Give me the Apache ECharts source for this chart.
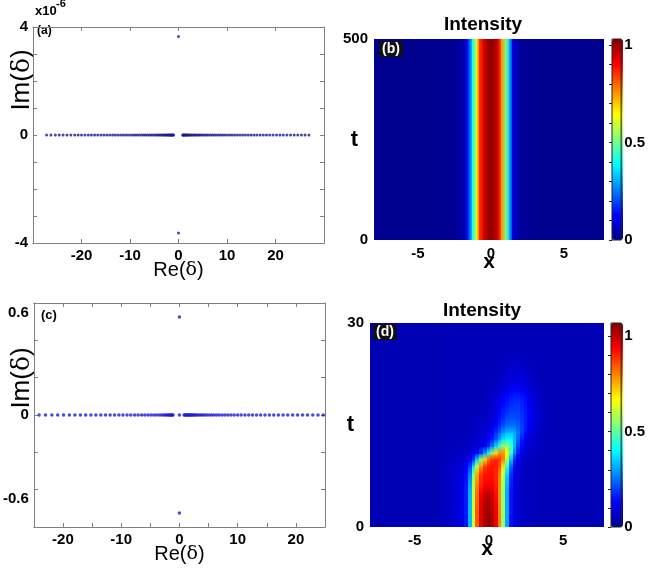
<!DOCTYPE html>
<html><head><meta charset="utf-8">
<script src="https://cdn.jsdelivr.net/npm/echarts@6/dist/echarts.min.js"></script>
<style>html,body{margin:0;padding:0;background:#fff}#c{width:648px;height:575px}</style>
</head><body><div id="c"></div>
<script>
// ---------- (a) eigenvalue spectrum, Im in units of 1e-6 ----------
const A_RE_NEG = [-27.2,-26.3,-25.4,-24.6,-23.8,-23.0,-22.2,-21.4,-20.7,-20.0,-19.3,-18.6,-17.95,-17.3,-16.65,-16.0,-15.4,-14.8,-14.2,-13.6,-13.05,-12.5,-11.95,-11.4,-10.9,-10.4,-9.9,-9.4,-8.95,-8.5,-8.05,-7.6,-7.2,-6.8,-6.4,-6.0,-5.65,-5.3,-4.95,-4.6,-4.3,-4.0,-3.7,-3.45,-3.2,-2.95,-2.7,-2.5,-2.3,-2.1,-1.95,-1.8,-1.65,-1.5,-1.38,-1.26,-1.14,-1.02];
const A_RE_POS = [0.85,0.97,1.09,1.21,1.35,1.5,1.65,1.82,2.0,2.2,2.4,2.6,2.85,3.1,3.35,3.6,3.9,4.2,4.5,4.8,5.15,5.5,5.85,6.2,6.6,7.0,7.4,7.8,8.25,8.7,9.15,9.6,10.1,10.6,11.1,11.6,12.15,12.7,13.25,13.8,14.4,15.0,15.6,16.2,16.85,17.5,18.15,18.8,19.5,20.2,20.9,21.6,22.35,23.1,23.85,24.6,25.35,26.1,26.9];
const A_IM_CONT = 0;
const A_DISCRETE = [[0, 3.65], [0, -3.63]];
const A_X_TICKS = [-20, -10, 0, 10, 20];
const A_Y_TICKS = [-4, 0, 4];

// ---------- (c) eigenvalue spectrum ----------
const C_RE_NEG = [-24.1,-23.0,-21.9,-20.9,-19.9,-18.9,-17.95,-17.0,-16.1,-15.2,-14.35,-13.5,-12.7,-11.9,-11.15,-10.4,-9.7,-9.0,-8.35,-7.7,-7.1,-6.5,-5.95,-5.4,-4.9,-4.4,-3.95,-3.5,-3.1,-2.75,-2.45,-2.2,-1.95,-1.75,-1.55,-1.4,-1.25,-1.1];
const C_RE_POS = [0.8,0.95,1.1,1.25,1.4,1.55,1.7,1.85,2.0,2.2,2.4,2.6,2.85,3.1,3.4,3.7,4.0,4.35,4.7,5.1,5.5,5.9,6.35,6.8,7.3,7.8,8.3,8.85,9.4,10.0,10.6,11.25,11.9,12.55,13.25,13.95,14.7,15.45,16.2,17.0,17.8,18.6,19.45,20.3,21.15,22.0,22.9,23.8,24.7];
const C_CENTER = [[0, 0]];
const C_IM_CONT = 0;
const C_DISCRETE = [[0, 0.525], [0, -0.525]];
const C_X_TICKS = [-20, -10, 0, 10, 20];
const C_Y_TICKS = [-0.6, 0, 0.6];

// ---------- heatmap grids ----------
const FULL_X = [-8,-7.75,-7.5,-7.25,-7,-6.75,-6.5,-6.25,-6,-5.75,-5.5,-5.25,-5,-4.75,-4.5,-4.25,-4,-3.75,-3.5,-3.25,-3,-2.75,-2.5,-2.25,-2,-1.75,-1.5,-1.25,-1,-0.75,-0.5,-0.25,0,0.25,0.5,0.75,1,1.25,1.5,1.75,2,2.25,2.5,2.75,3,3.25,3.5,3.75,4,4.25,4.5,4.75,5,5.25,5.5,5.75,6,6.25,6.5,6.75,7,7.25,7.5,7.75];
const HEAT_X_TICKS = [-5, 0, 5];

// (b): stationary intensity profile |psi|^2 (same for all t in [0,500])
const B_T_RANGE = [0, 500];
const B_I = [0,0,0,0,0,0,0,0,0,0,0,0,0,0,0,0,0,0,0,0,
  0.004,0.006,0.009,0.014,0.025,0.06,0.17,0.39,0.63,0.85,0.94,0.99,1.02,0.99,0.93,0.76,0.52,0.32,0.09,0.04,0.02,0.012,0.008,0.005,0.003,
  0,0,0,0,0,0,0,0,0,0,0,0,0,0,0,0,0,0,0];
const B_Y_TICKS = [0, 500];
const B_CMAX = 1.03;

// (d): evolving intensity; rows at t = 0..30, window x = -3..4.5, background outside
const D_T = [0,1,2,3,4,5,6,7,8,9,10,11,12,13,14,15,16,17,18,19,20,21,22,23,24,25,26,27,28,29,30];
const D_WIN_X = [-3,-2.75,-2.5,-2.25,-2,-1.75,-1.5,-1.25,-1,-0.75,-0.5,-0.25,0,0.25,0.5,0.75,1,1.25,1.5,1.75,2,2.25,2.5,2.75,3,3.25,3.5,3.75,4,4.25,4.5];
const D_BG = 0.045;
const D_ROWS = [
 [0.06,0.06,0.07,0.08,0.09,0.11,0.16,0.33,0.61,0.85,0.97,1.03,1.05,1.03,0.95,0.80,0.56,0.31,0.15,0.10,0.08,0.07,0.06,0.06,0.05,0.05,0.05,0.05,0.05,0.05,0.05],
 [0.06,0.06,0.07,0.08,0.09,0.11,0.16,0.33,0.61,0.85,0.97,1.03,1.05,1.03,0.95,0.80,0.56,0.31,0.15,0.10,0.08,0.07,0.06,0.06,0.05,0.05,0.05,0.05,0.05,0.05,0.05],
 [0.06,0.06,0.07,0.08,0.09,0.11,0.16,0.33,0.61,0.85,0.97,1.02,1.04,1.02,0.95,0.80,0.56,0.31,0.15,0.10,0.08,0.07,0.06,0.06,0.05,0.05,0.05,0.05,0.05,0.05,0.05],
 [0.06,0.06,0.07,0.08,0.09,0.11,0.16,0.33,0.61,0.84,0.96,1.02,1.03,1.01,0.94,0.80,0.56,0.31,0.15,0.10,0.08,0.07,0.06,0.06,0.05,0.05,0.05,0.05,0.05,0.05,0.05],
 [0.06,0.06,0.07,0.08,0.09,0.11,0.16,0.32,0.60,0.83,0.96,1.01,1.02,1.00,0.93,0.79,0.56,0.31,0.15,0.10,0.08,0.07,0.06,0.06,0.05,0.05,0.05,0.05,0.05,0.05,0.05],
 [0.06,0.06,0.07,0.08,0.09,0.11,0.16,0.32,0.59,0.82,0.94,0.99,1.00,0.98,0.92,0.79,0.56,0.31,0.15,0.10,0.08,0.07,0.06,0.06,0.05,0.05,0.05,0.05,0.05,0.05,0.05],
 [0.06,0.06,0.07,0.08,0.09,0.11,0.16,0.31,0.58,0.80,0.91,0.95,0.96,0.95,0.91,0.79,0.57,0.32,0.16,0.10,0.08,0.07,0.06,0.06,0.05,0.05,0.05,0.05,0.05,0.05,0.05],
 [0.06,0.06,0.07,0.08,0.09,0.11,0.15,0.29,0.56,0.78,0.89,0.93,0.93,0.93,0.90,0.80,0.59,0.34,0.17,0.11,0.08,0.07,0.06,0.06,0.05,0.05,0.05,0.05,0.05,0.05,0.05],
 [0.06,0.06,0.07,0.08,0.09,0.11,0.14,0.26,0.51,0.75,0.87,0.91,0.92,0.92,0.90,0.81,0.62,0.37,0.19,0.11,0.08,0.07,0.06,0.06,0.05,0.05,0.05,0.05,0.05,0.05,0.05],
 [0.06,0.06,0.07,0.07,0.08,0.09,0.12,0.20,0.38,0.60,0.78,0.88,0.91,0.92,0.91,0.86,0.70,0.45,0.24,0.13,0.09,0.07,0.06,0.06,0.05,0.05,0.05,0.05,0.05,0.05,0.05],
 [0.05,0.06,0.06,0.07,0.07,0.08,0.09,0.12,0.18,0.35,0.55,0.71,0.82,0.88,0.90,0.88,0.80,0.58,0.34,0.18,0.11,0.08,0.07,0.06,0.06,0.05,0.05,0.05,0.05,0.05,0.05],
 [0.05,0.05,0.06,0.06,0.06,0.07,0.07,0.08,0.10,0.14,0.20,0.30,0.42,0.56,0.70,0.79,0.79,0.67,0.46,0.27,0.16,0.11,0.08,0.07,0.06,0.06,0.05,0.05,0.05,0.05,0.05],
 [0.05,0.05,0.05,0.05,0.06,0.06,0.06,0.07,0.07,0.08,0.10,0.13,0.18,0.26,0.36,0.47,0.55,0.55,0.47,0.33,0.21,0.14,0.10,0.08,0.07,0.06,0.06,0.05,0.05,0.05,0.05],
 [0.05,0.05,0.05,0.05,0.05,0.05,0.06,0.06,0.06,0.07,0.08,0.09,0.12,0.16,0.22,0.30,0.37,0.41,0.40,0.33,0.24,0.16,0.11,0.09,0.07,0.06,0.06,0.05,0.05,0.05,0.05],
 [0.05,0.05,0.05,0.05,0.05,0.05,0.05,0.06,0.06,0.06,0.07,0.08,0.10,0.13,0.18,0.23,0.28,0.32,0.33,0.31,0.26,0.20,0.15,0.11,0.09,0.07,0.06,0.06,0.05,0.05,0.05],
 [0.05,0.05,0.05,0.05,0.05,0.05,0.05,0.05,0.06,0.06,0.07,0.07,0.08,0.10,0.13,0.17,0.21,0.24,0.25,0.25,0.23,0.20,0.16,0.12,0.10,0.08,0.07,0.06,0.05,0.05,0.05],
 [0.05,0.05,0.05,0.05,0.05,0.05,0.05,0.05,0.05,0.06,0.06,0.07,0.07,0.09,0.12,0.15,0.18,0.21,0.22,0.22,0.21,0.19,0.16,0.13,0.10,0.08,0.07,0.06,0.05,0.05,0.05],
 [0.05,0.05,0.05,0.05,0.05,0.05,0.05,0.05,0.05,0.05,0.06,0.06,0.07,0.08,0.10,0.13,0.16,0.18,0.20,0.20,0.20,0.18,0.16,0.13,0.10,0.08,0.07,0.06,0.05,0.05,0.05],
 [0.05,0.05,0.05,0.05,0.05,0.05,0.05,0.05,0.05,0.05,0.05,0.06,0.06,0.07,0.09,0.11,0.14,0.16,0.18,0.19,0.19,0.17,0.15,0.12,0.10,0.08,0.07,0.06,0.05,0.05,0.05],
 [0.05,0.05,0.05,0.05,0.05,0.05,0.05,0.05,0.05,0.05,0.05,0.05,0.06,0.07,0.08,0.10,0.12,0.14,0.16,0.17,0.17,0.16,0.14,0.11,0.09,0.07,0.06,0.06,0.05,0.05,0.05],
 [0.05,0.05,0.05,0.05,0.05,0.05,0.05,0.05,0.05,0.05,0.05,0.05,0.06,0.06,0.07,0.08,0.10,0.12,0.13,0.14,0.14,0.13,0.12,0.10,0.08,0.07,0.06,0.05,0.05,0.05,0.05],
 [0.05,0.05,0.05,0.05,0.05,0.05,0.05,0.05,0.05,0.05,0.05,0.05,0.05,0.06,0.06,0.07,0.08,0.09,0.10,0.11,0.11,0.10,0.09,0.08,0.07,0.06,0.05,0.05,0.05,0.05,0.05],
 [0.05,0.05,0.05,0.05,0.05,0.05,0.05,0.05,0.05,0.05,0.05,0.05,0.05,0.05,0.06,0.06,0.07,0.08,0.09,0.09,0.09,0.09,0.08,0.07,0.06,0.05,0.05,0.05,0.05,0.05,0.05],
 [0.05,0.05,0.05,0.05,0.05,0.05,0.05,0.05,0.05,0.05,0.05,0.05,0.05,0.05,0.05,0.06,0.06,0.07,0.08,0.08,0.08,0.08,0.07,0.06,0.06,0.05,0.05,0.05,0.05,0.05,0.05],
 [0.05,0.05,0.05,0.05,0.05,0.05,0.05,0.05,0.05,0.05,0.05,0.05,0.05,0.05,0.05,0.05,0.06,0.06,0.07,0.07,0.07,0.07,0.06,0.06,0.05,0.05,0.05,0.05,0.05,0.05,0.05],
 [0.05,0.05,0.05,0.05,0.05,0.05,0.05,0.05,0.05,0.05,0.05,0.05,0.05,0.05,0.05,0.05,0.05,0.06,0.06,0.06,0.06,0.06,0.05,0.05,0.05,0.05,0.05,0.05,0.05,0.05,0.05],
 [0.05,0.05,0.05,0.05,0.05,0.05,0.05,0.05,0.05,0.05,0.05,0.05,0.05,0.05,0.05,0.05,0.05,0.05,0.05,0.05,0.05,0.05,0.05,0.05,0.05,0.05,0.05,0.05,0.05,0.05,0.05],
 [0.05,0.05,0.05,0.05,0.05,0.05,0.05,0.05,0.05,0.05,0.05,0.05,0.05,0.05,0.05,0.05,0.05,0.05,0.05,0.05,0.05,0.05,0.05,0.05,0.05,0.05,0.05,0.05,0.05,0.05,0.05],
 [0.05,0.05,0.05,0.05,0.05,0.05,0.05,0.05,0.05,0.05,0.05,0.05,0.05,0.05,0.05,0.05,0.05,0.05,0.05,0.05,0.05,0.05,0.05,0.05,0.05,0.05,0.05,0.05,0.05,0.05,0.05],
 [0.05,0.05,0.05,0.05,0.05,0.05,0.05,0.05,0.05,0.05,0.05,0.05,0.05,0.05,0.05,0.05,0.05,0.05,0.05,0.05,0.05,0.05,0.05,0.05,0.05,0.05,0.05,0.05,0.05,0.05,0.05],
 [0.05,0.05,0.05,0.05,0.05,0.05,0.05,0.05,0.05,0.05,0.05,0.05,0.05,0.05,0.05,0.05,0.05,0.05,0.05,0.05,0.05,0.05,0.05,0.05,0.05,0.05,0.05,0.05,0.05,0.05,0.05]
];
const D_Y_TICKS = [0, 30];
const D_CMAX = 1.07;

const CBAR_TICKS = [0,0.1,0.2,0.3,0.4,0.5,0.6,0.7,0.8,0.9,1.0];
const CBAR_LABELS = [0, 0.5, 1];
const JET = ['#00008f','#0000ff','#0080ff','#00ffff','#80ff80','#ffff00','#ff8000','#ff0000','#800000'];

// ---------- build ----------
const FONT = "'Liberation Sans', Arial, Helvetica, sans-serif";
const SERIF = "'DejaVu Serif', 'Liberation Serif', serif";
const tickLab = {color:'#000', fontFamily:FONT, fontWeight:'bold', fontSize:15};
const GRAY = '#808080';

const aCont = A_RE_NEG.concat(A_RE_POS).map(r => [r, A_IM_CONT]);
const cCont = C_RE_NEG.concat(C_RE_POS).map(r => [r, C_IM_CONT]);

const NX = FULL_X.length;
const bData = FULL_X.map((x, i) => [x, (B_T_RANGE[0] + B_T_RANGE[1]) / 2, B_I[i]]);
const dData = [];
D_T.forEach((t, r) => {
  FULL_X.forEach(x => {
    const k = D_WIN_X.indexOf(x);
    dData.push([x, t, k >= 0 ? D_ROWS[r][k] : D_BG]);
  });
});

function pixRect(pa, pb) {
  const x0 = Math.floor(Math.min(pa[0], pb[0])), x1 = Math.ceil(Math.max(pa[0], pb[0]));
  const y0 = Math.floor(Math.min(pa[1], pb[1])), y1 = Math.ceil(Math.max(pa[1], pb[1]));
  return {x: x0, y: y0, width: x1 - x0 + 1, height: y1 - y0 + 1};
}
// (b): shading interpolated along x between neighbouring samples
function renderB(params, api) {
  const i = params.dataIndexInside;
  if (i >= params.dataInsideLength - 1) return null;
  const x0 = api.value(0), x1 = FULL_X[i + 1];
  const shape = pixRect(api.coord([x0, B_T_RANGE[1]]), api.coord([x1, B_T_RANGE[0]]));
  return {
    type: 'rect', shape,
    style: {fill: {type: 'linear', x: 0, y: 0, x2: 1, y2: 0, colorStops: [
      {offset: 0, color: api.visual('color')},
      {offset: 1, color: api.visual('color', i + 1)}]}}
  };
}
// (d): shading interpolated along t between neighbouring rows
function renderD(params, api) {
  const k = params.dataIndexInside;
  if (k + NX >= params.dataInsideLength) return null;
  const x = api.value(0), t0 = api.value(1);
  const t1 = D_T[Math.floor(k / NX) + 1];
  const shape = pixRect(api.coord([x - 0.125, t1]), api.coord([x + 0.125, t0]));
  return {
    type: 'rect', shape,
    style: {fill: {type: 'linear', x: 0, y: 0, x2: 0, y2: 1, colorStops: [
      {offset: 0, color: api.visual('color', k + NX)},
      {offset: 1, color: api.visual('color')}]}}
  };
}

const near = (a, b) => Math.abs(a - b) < 1e-6;
const richName = {
  a: {fontFamily: FONT, fontSize: 20, color: '#000'},
  d: {fontFamily: SERIF, fontSize: 19, color: '#000'}
};

function boxAxes(gridIndex, min, max, interval, labelSet, isX, labelFmt, extra) {
  const main = Object.assign({
    gridIndex, type: 'value', min, max, interval,
    axisLine: {show: true, onZero: false, lineStyle: {color: GRAY, width: 1}},
    axisTick: {show: true, inside: true, length: 4, lineStyle: {color: GRAY}},
    axisLabel: Object.assign({}, tickLab, {margin: 5,
      formatter: labelFmt || (v => labelSet.some(s => near(s, v)) ? String(v) : '')}),
    splitLine: {show: false}
  }, extra || {});
  const second = {
    gridIndex, type: 'value', min, max, interval,
    position: isX ? 'top' : 'right',
    axisLine: {show: true, onZero: false, lineStyle: {color: GRAY, width: 1}},
    axisTick: {show: true, inside: true, length: 4, lineStyle: {color: GRAY}},
    axisLabel: {show: false}, splitLine: {show: false}
  };
  return [main, second];
}

const xAxes = [];
const yAxes = [];
// grid 0 : (a)
xAxes.push(...boxAxes(0, -30, 30, 10, A_X_TICKS, true, null, {
  name: '{a|Re(}{d|δ}{a|)}', nameLocation: 'middle', nameGap: 17, nameMoveOverlap: false,
  nameTextStyle: {rich: richName}
}));
yAxes.push(...boxAxes(0, -4, 4, 1, A_Y_TICKS, false));
// grid 1 : (c)
xAxes.push(...boxAxes(1, -25, 25, 5, C_X_TICKS, true, null, {
  name: '{a|Re(}{d|δ}{a|)}', nameLocation: 'middle', nameGap: 17, nameMoveOverlap: false,
  nameTextStyle: {rich: richName}
}));
yAxes.push(...boxAxes(1, -0.6, 0.6, 0.2, C_Y_TICKS, false, v => {
  if (near(v, 0.6)) return '{t|0.6}';
  if (near(v, -0.6)) return '{b|-0.6}';
  if (near(v, 0)) return '0';
  return '';
}, {}));
yAxes[2].axisLabel.rich = {
  t: Object.assign({}, tickLab, {padding: [20, 0, 0, 0]}),
  b: Object.assign({}, tickLab, {padding: [0, 0, 56, 0]})
};

function heatAxes(gridIndex, ymax, yTicks) {
  xAxes.push({
    gridIndex, type: 'value', min: -8, max: 7.75,
    axisLine: {show: false}, axisTick: {show: false}, splitLine: {show: false},
    axisLabel: Object.assign({}, tickLab, {margin: 6, customValues: HEAT_X_TICKS}),
    name: 'x', nameLocation: 'middle', nameGap: 12, nameMoveOverlap: false,
    nameTextStyle: {fontFamily: FONT, fontWeight: 'bold', fontSize: 21, color: '#000'}
  });
  yAxes.push({
    gridIndex, type: 'value', min: 0, max: ymax,
    axisLine: {show: false}, axisTick: {show: false}, splitLine: {show: false},
    axisLabel: Object.assign({}, tickLab, {margin: 6, customValues: yTicks}),
    name: 't', nameLocation: 'middle', nameGap: 16, nameRotate: 0, nameMoveOverlap: false,
    nameTextStyle: {fontFamily: FONT, fontWeight: 'bold', fontSize: 22, color: '#000'}
  });
}
heatAxes(2, 500, B_Y_TICKS);   // x idx 4, y idx 4
heatAxes(3, 30, D_Y_TICKS);    // x idx 5, y idx 5

function cbarAxes(gridIndex, cmax) {
  xAxes.push({gridIndex, type: 'value', min: 0, max: 1, show: false});
  yAxes.push({
    gridIndex, type: 'value', min: 0, max: cmax, position: 'right', z: 10,
    axisLine: {show: false}, splitLine: {show: false},
    axisTick: {show: true, inside: true, length: 3, customValues: CBAR_TICKS, lineStyle: {color: '#222'}},
    axisLabel: Object.assign({}, tickLab, {margin: 3, customValues: CBAR_LABELS})
  });
}
cbarAxes(4, B_CMAX);  // idx 6
cbarAxes(5, D_CMAX);  // idx 7

const option = {
  animation: false,
  backgroundColor: '#fff',
  grid: [
    {left: 33, top: 27, width: 291, height: 216, containLabel: false},
    {left: 33, top: 303, width: 292, height: 224, containLabel: false},
    {left: 374, top: 39, width: 230, height: 201, containLabel: false},
    {left: 370, top: 323, width: 234, height: 204, containLabel: false},
    {left: 612, top: 39, width: 11, height: 201, show: true, z: 10, backgroundColor: 'transparent', borderColor: '#222', borderWidth: 1, containLabel: false},
    {left: 611, top: 323, width: 12, height: 204, show: true, z: 10, backgroundColor: 'transparent', borderColor: '#222', borderWidth: 1, containLabel: false}
  ],
  xAxis: xAxes,
  yAxis: yAxes,
  visualMap: [
    {type: 'continuous', seriesIndex: 4, dimension: 2, min: 0, max: B_CMAX, inRange: {color: JET},
     show: true, calculable: false, hoverLink: false, orient: 'vertical', itemWidth: 11, itemHeight: 201,
     left: 612, top: 39, padding: 0},
    {type: 'continuous', seriesIndex: 5, dimension: 2, min: 0, max: D_CMAX, inRange: {color: JET},
     show: true, calculable: false, hoverLink: false, orient: 'vertical', itemWidth: 12, itemHeight: 204,
     left: 611, top: 323, padding: 0}
  ],
  series: [
    {type: 'scatter', xAxisIndex: 0, yAxisIndex: 0, data: aCont, symbol: 'circle', symbolSize: 3, itemStyle: {color: '#1a1a8c'}, silent: true},
    {type: 'scatter', xAxisIndex: 0, yAxisIndex: 0, data: A_DISCRETE, symbol: 'circle', symbolSize: 3, itemStyle: {color: '#1a1a8c'}, silent: true},
    {type: 'scatter', xAxisIndex: 2, yAxisIndex: 2, data: cCont.concat(C_CENTER), symbol: 'circle', symbolSize: 3.5, itemStyle: {color: '#1c1cd6'}, silent: true, clip: true},
    {type: 'scatter', xAxisIndex: 2, yAxisIndex: 2, data: C_DISCRETE, symbol: 'circle', symbolSize: 3.5, itemStyle: {color: '#1c1cd6'}, silent: true},
    {type: 'custom', xAxisIndex: 4, yAxisIndex: 4, data: bData, clip: true, silent: true,
     encode: {x: 0, y: 1}, renderItem: renderB},
    {type: 'custom', xAxisIndex: 5, yAxisIndex: 5, data: dData, clip: true, silent: true,
     encode: {x: 0, y: 1}, renderItem: renderD}
  ],
  graphic: [
    {type: 'text', x: 22, y: 80, rotation: Math.PI / 2,
     style: {text: '{a|Im(}{d|δ}{a|)}', align: 'center', verticalAlign: 'middle', textAlign: 'center', textVerticalAlign: 'middle',
       rich: {a: {fontFamily: FONT, fontSize: 26, fill: '#000'}, d: {fontFamily: SERIF, fontSize: 25, fill: '#000'}}}},
    {type: 'text', x: 22, y: 378, rotation: Math.PI / 2,
     style: {text: '{a|Im(}{d|δ}{a|)}', align: 'center', verticalAlign: 'middle', textAlign: 'center', textVerticalAlign: 'middle',
       rich: {a: {fontFamily: FONT, fontSize: 26, fill: '#000'}, d: {fontFamily: SERIF, fontSize: 25, fill: '#000'}}}},
    {type: 'text', x: 35, y: 11, style: {text: 'x10', font: "bold 13px 'Liberation Sans', Arial, sans-serif", fill: '#000', align: 'left', verticalAlign: 'middle', textAlign: 'left', textVerticalAlign: 'middle'}},
    {type: 'text', x: 56, y: 4, style: {text: '-6', font: "bold 11px 'Liberation Sans', Arial, sans-serif", fill: '#000', align: 'left', verticalAlign: 'middle', textAlign: 'left', textVerticalAlign: 'middle'}},
    {type: 'text', x: 37, y: 31, style: {text: '(a)', font: "bold 12px 'Liberation Sans', Arial, sans-serif", fill: '#000', align: 'left', verticalAlign: 'middle', textAlign: 'left', textVerticalAlign: 'middle'}},
    {type: 'text', x: 41, y: 315, style: {text: '(c)', font: "bold 13px 'Liberation Sans', Arial, sans-serif", fill: '#000', align: 'left', verticalAlign: 'middle', textAlign: 'left', textVerticalAlign: 'middle'}},
    {type: 'text', x: 379, y: 41, z: 20, style: {text: '(b)', font: "bold 14px 'Liberation Sans', Arial, sans-serif", fill: '#fff', backgroundColor: '#111', padding: [1, 3, 1, 3], borderRadius: 2, align: 'left', verticalAlign: 'top', textAlign: 'left', textVerticalAlign: 'top'}},
    {type: 'text', x: 373, y: 324, z: 20, style: {text: '(d)', font: "bold 14px 'Liberation Sans', Arial, sans-serif", fill: '#fff', backgroundColor: '#111', padding: [1, 3, 1, 3], borderRadius: 2, align: 'left', verticalAlign: 'top', textAlign: 'left', textVerticalAlign: 'top'}},
    {type: 'text', x: 483, y: 25, style: {text: 'Intensity', font: "bold 19px 'Liberation Sans', Arial, sans-serif", fill: '#000', align: 'center', verticalAlign: 'middle', textAlign: 'center', textVerticalAlign: 'middle'}},
    {type: 'text', x: 482, y: 311, style: {text: 'Intensity', font: "bold 19px 'Liberation Sans', Arial, sans-serif", fill: '#000', align: 'center', verticalAlign: 'middle', textAlign: 'center', textVerticalAlign: 'middle'}}
  ]
};

const chart = echarts.init(document.getElementById('c'), null, {renderer: 'canvas'});
chart.setOption(option);
</script>
</body></html>
